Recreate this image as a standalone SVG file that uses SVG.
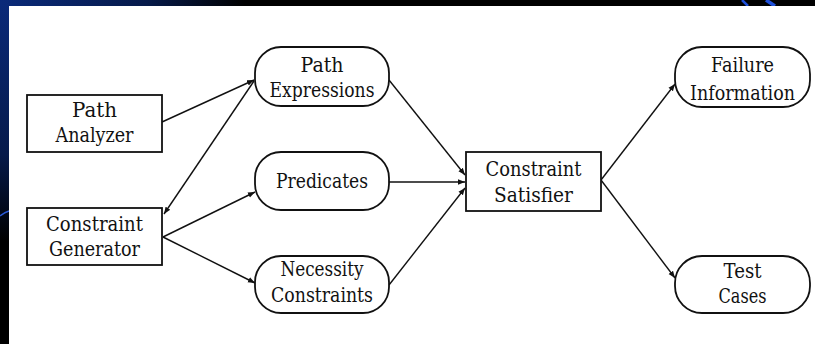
<svg xmlns="http://www.w3.org/2000/svg" width="815" height="344" viewBox="0 0 815 344">
<defs>
<linearGradient id="bgL" x1="0" y1="0" x2="0" y2="1">
<stop offset="0" stop-color="#0a2a7a"/>
<stop offset="0.45" stop-color="#061a4a"/>
<stop offset="0.7" stop-color="#000000"/>
<stop offset="1" stop-color="#000000"/>
</linearGradient>
<linearGradient id="bgT" x1="0" y1="0" x2="1" y2="0">
<stop offset="0" stop-color="#0a2a7a"/>
<stop offset="0.18" stop-color="#061a4a"/>
<stop offset="0.3" stop-color="#000000"/>
<stop offset="1" stop-color="#000000"/>
</linearGradient>
<marker id="ah" viewBox="0 0 10 10" refX="10" refY="5" markerWidth="7" markerHeight="7" orient="auto" markerUnits="userSpaceOnUse">
<path d="M0,1 L10,5 L0,9 Z" fill="#111"/>
</marker>
<style>
.box{fill:#fff;stroke:#111;stroke-width:1.8}
.t{font-family:'DejaVu Serif','Liberation Serif',serif;font-size:20px;fill:#111;text-anchor:middle}
.c{stroke:#111;stroke-width:1.4;fill:none;marker-end:url(#ah)}
</style>
</defs>
<rect x="0" y="0" width="815" height="344" fill="#000"/>
<rect x="0" y="0" width="9" height="344" fill="url(#bgL)"/>
<rect x="0" y="0" width="815" height="6" fill="url(#bgT)"/>
<path d="M0,216 Q5,212 9,211" stroke="#2a5ad8" stroke-width="1.5" fill="none"/>
<path d="M742,0 L748,6" stroke="#1e4fd8" stroke-width="2.5" fill="none"/>
<path d="M766,0 L775,6" stroke="#1e4fd8" stroke-width="3.5" fill="none"/>
<rect x="9" y="6" width="806" height="338" fill="#fff"/>

<g id="connectors">
<line class="c" x1="162" y1="122" x2="254" y2="80"/>
<line class="c" x1="254" y1="81" x2="164" y2="214"/>
<line class="c" x1="163" y1="237" x2="255" y2="192"/>
<line class="c" x1="163" y1="237" x2="255" y2="283"/>
<line class="c" x1="389" y1="80" x2="465" y2="175"/>
<line class="c" x1="389" y1="182" x2="465" y2="182"/>
<line class="c" x1="389" y1="285" x2="465" y2="188"/>
<line class="c" x1="601" y1="180" x2="675" y2="84"/>
<line class="c" x1="601" y1="180" x2="675" y2="278"/>
</g>

<g id="path-analyzer">
<rect class="box" x="27" y="95" width="135" height="57"/>
<text class="t" x="94.5" y="117" textLength="45" lengthAdjust="spacingAndGlyphs">Path</text>
<text class="t" x="94.5" y="142" textLength="78" lengthAdjust="spacingAndGlyphs">Analyzer</text>
</g>
<g id="constraint-generator">
<rect class="box" x="27" y="208" width="135" height="57"/>
<text class="t" x="94.5" y="231" textLength="97" lengthAdjust="spacingAndGlyphs">Constraint</text>
<text class="t" x="94.5" y="256" textLength="91" lengthAdjust="spacingAndGlyphs">Generator</text>
</g>
<g id="path-expressions">
<rect class="box" x="255" y="47" width="134" height="59" rx="26" ry="26"/>
<text class="t" x="322" y="72" textLength="43" lengthAdjust="spacingAndGlyphs">Path</text>
<text class="t" x="322" y="97" textLength="105" lengthAdjust="spacingAndGlyphs">Expressions</text>
</g>
<g id="predicates">
<rect class="box" x="255" y="152" width="134" height="58" rx="26" ry="26"/>
<text class="t" x="322" y="188" textLength="92" lengthAdjust="spacingAndGlyphs">Predicates</text>
</g>
<g id="necessity-constraints">
<rect class="box" x="255" y="256" width="134" height="57" rx="26" ry="26"/>
<text class="t" x="322" y="276" textLength="83" lengthAdjust="spacingAndGlyphs">Necessity</text>
<text class="t" x="322" y="302" textLength="102" lengthAdjust="spacingAndGlyphs">Constraints</text>
</g>
<g id="constraint-satisfier">
<rect class="box" x="466" y="152" width="135" height="59"/>
<text class="t" x="533.5" y="176" textLength="96" lengthAdjust="spacingAndGlyphs">Constraint</text>
<text class="t" x="533.5" y="202" textLength="79" lengthAdjust="spacingAndGlyphs">Satisfier</text>
</g>
<g id="failure-information">
<rect class="box" x="675" y="47" width="135" height="60" rx="27" ry="27"/>
<text class="t" x="742.5" y="72" textLength="63" lengthAdjust="spacingAndGlyphs">Failure</text>
<text class="t" x="742.5" y="100" textLength="105" lengthAdjust="spacingAndGlyphs">Information</text>
</g>
<g id="test-cases">
<rect class="box" x="675" y="256" width="135" height="57" rx="27" ry="27"/>
<text class="t" x="742.5" y="278" textLength="38" lengthAdjust="spacingAndGlyphs">Test</text>
<text class="t" x="742.5" y="303" textLength="48" lengthAdjust="spacingAndGlyphs">Cases</text>
</g>
</svg>
